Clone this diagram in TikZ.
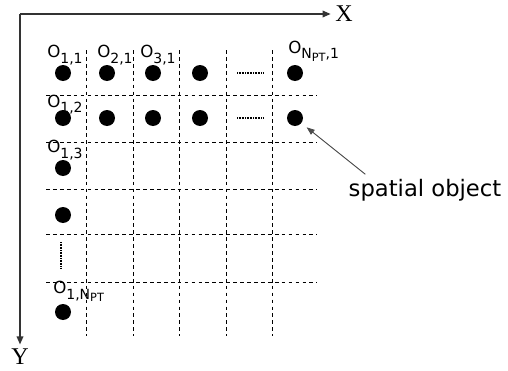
\documentclass[tikz,border=0pt]{standalone}
\usepackage{fontspec}
\setmainfont{DejaVu Sans}
\newfontfamily\axisfont{Liberation Serif}
\usetikzlibrary{arrows.meta,positioning}
\newcommand{\osub}[1]{O\raisebox{-4.5pt}{\fontsize{10.5}{10.5}\selectfont #1}}
\newcommand{\npt}{N\raisebox{-1.5pt}{\fontsize{8.5}{8.5}\selectfont PT}}

\begin{document}
\begin{tikzpicture}[x=0.75pt, y=-0.75pt,
  axis/.style={line width=1pt, draw=black!80, -{Triangle[length=6pt,width=5pt]}},
  gridline/.style={line width=0.75pt, dash pattern=on 2.8pt off 2.4pt},
  obj/.style={circle, fill=black, inner sep=0pt, minimum size=12pt},
  more/.style={line width=0.8pt, dash pattern=on 0.6pt off 0.6pt},
  olab/.style={anchor=base west, inner sep=0pt, font=\fontsize{12.5}{12.5}\selectfont},
  axlab/.style={font=\axisfont\fontsize{18}{18}\selectfont},
  pointer/.style={draw=black!70, line width=0.7pt, -{Triangle[length=6pt,width=4.5pt]}, shorten >=5pt}]
\useasboundingbox (0,0) rectangle (508,371);
% axes
\coordinate (O) at (20,14);
\node[axlab] (xlab) at (344,14) {X};
\node[axlab] (ylab) at (20,357) {Y};
\draw[axis] (O) -- (xlab.west);
\draw[axis] (O) -- (ylab.north);
% grid
\foreach \x in {86,133,179,226,272}
  \draw[gridline] (\x,50) -- (\x,336);
\foreach \y in {95,142,189,234,282}
  \draw[gridline] (46,\y) -- (317,\y);
% objects
\foreach \n/\x in {1/63,2/107,3/153,4/200,N/295} {
  \node[obj] (o\n1) at (\x,73) {};
  \node[obj] (o\n2) at (\x,118) {};
}
\node[obj] (o13) at (63,168) {};
\node[obj] (o14) at (63,215) {};
\node[obj] (o1N) at (63,312) {};
\draw[more] (237,73) -- (263,73);
\draw[more] (237,118) -- (263,118);
\draw[more] (61,242) -- (61,268);
% labels
\node[olab] (l11) at (47,57) {\osub{1,1}};
\node[olab] (l21) at (97,57) {\osub{2,1}};
\node[olab] (l31) at (140,57) {\osub{3,1}};
\node[olab] (lN1) at (288,53) {\osub{\npt,1}};
\node[olab] (l12) at (47,107) {\osub{1,2}};
\node[olab] (l13) at (47,152) {\osub{1,3}};
\node[olab] (l1N) at (53,293) {\osub{1,\npt}};
\node[font=\fontsize{17}{17}\selectfont] (spobj) at (425,190) {spatial object};
\draw[pointer] ([xshift=16pt]spobj.north west) -- (oN2);
\end{tikzpicture}
\end{document}
